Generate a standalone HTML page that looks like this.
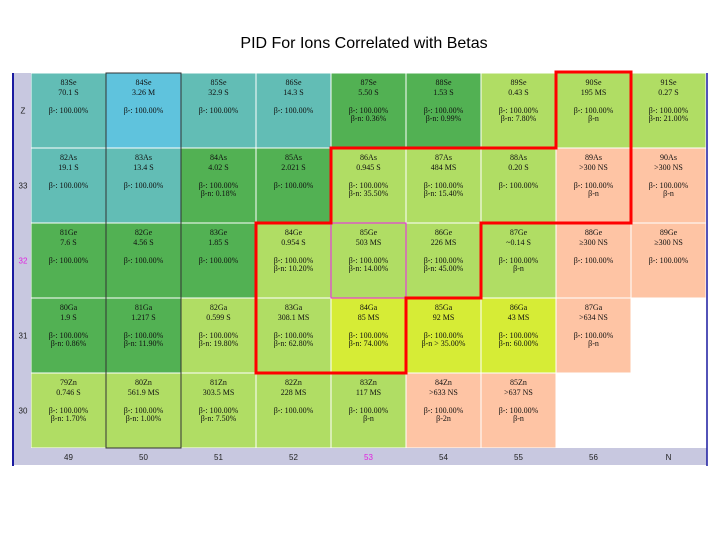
<!DOCTYPE html>
<html><head><meta charset="utf-8"><style>
body{margin:0;background:#fff;width:720px;height:540px;overflow:hidden;font-family:"Liberation Sans",sans-serif}
svg text{font-family:"Liberation Serif",serif;font-size:8px;fill:#111}
</style></head><body>
<svg id="c" width="720" height="540">
<text x="364" y="48" text-anchor="middle" style="font-family:'Liberation Sans',sans-serif;font-size:16px;fill:#000">PID For Ions Correlated with Betas</text>
</svg>
<script>
const rowLabels=["Z","33","32","31","30"];
const colLabels=["49","50","51","52","53","54","55","56","N"];
const colorMap={t:"#62bdb5",c:"#5fc3dd",g:"#52b153",l:"#b0dd64",y:"#d6ec36",s:"#fec4a4"};
const cells=[
["83Se","70.1 S","β-: 100.00%","","t",0,0],["84Se","3.26 M","β-: 100.00%","","c",0,1],["85Se","32.9 S","β-: 100.00%","","t",0,2],["86Se","14.3 S","β-: 100.00%","","t",0,3],["87Se","5.50 S","β-: 100.00%","β-n: 0.36%","g",0,4],["88Se","1.53 S","β-: 100.00%","β-n: 0.99%","g",0,5],["89Se","0.43 S","β-: 100.00%","β-n: 7.80%","l",0,6],["90Se","195 MS","β-: 100.00%","β-n","l",0,7],["91Se","0.27 S","β-: 100.00%","β-n: 21.00%","l",0,8],
["82As","19.1 S","β-: 100.00%","","t",1,0],["83As","13.4 S","β-: 100.00%","","t",1,1],["84As","4.02 S","β-: 100.00%","β-n: 0.18%","g",1,2],["85As","2.021 S","β-: 100.00%","","g",1,3],["86As","0.945 S","β-: 100.00%","β-n: 35.50%","l",1,4],["87As","484 MS","β-: 100.00%","β-n: 15.40%","l",1,5],["88As","0.20 S","β-: 100.00%","","l",1,6],["89As",">300 NS","β-: 100.00%","β-n","s",1,7],["90As",">300 NS","β-: 100.00%","β-n","s",1,8],
["81Ge","7.6 S","β-: 100.00%","","g",2,0],["82Ge","4.56 S","β-: 100.00%","","g",2,1],["83Ge","1.85 S","β-: 100.00%","","g",2,2],["84Ge","0.954 S","β-: 100.00%","β-n: 10.20%","l",2,3],["85Ge","503 MS","β-: 100.00%","β-n: 14.00%","l",2,4],["86Ge","226 MS","β-: 100.00%","β-n: 45.00%","l",2,5],["87Ge","~0.14 S","β-: 100.00%","β-n","l",2,6],["88Ge","≥300 NS","β-: 100.00%","","s",2,7],["89Ge","≥300 NS","β-: 100.00%","","s",2,8],
["80Ga","1.9 S","β-: 100.00%","β-n: 0.86%","g",3,0],["81Ga","1.217 S","β-: 100.00%","β-n: 11.90%","g",3,1],["82Ga","0.599 S","β-: 100.00%","β-n: 19.80%","l",3,2],["83Ga","308.1 MS","β-: 100.00%","β-n: 62.80%","l",3,3],["84Ga","85 MS","β-: 100.00%","β-n: 74.00%","y",3,4],["85Ga","92 MS","β-: 100.00%","β-n > 35.00%","y",3,5],["86Ga","43 MS","β-: 100.00%","β-n: 60.00%","y",3,6],["87Ga",">634 NS","β-: 100.00%","β-n","s",3,7],
["79Zn","0.746 S","β-: 100.00%","β-n: 1.70%","l",4,0],["80Zn","561.9 MS","β-: 100.00%","β-n: 1.00%","l",4,1],["81Zn","303.5 MS","β-: 100.00%","β-n: 7.50%","l",4,2],["82Zn","228 MS","β-: 100.00%","","l",4,3],["83Zn","117 MS","β-: 100.00%","β-n","l",4,4],["84Zn",">633 NS","β-: 100.00%","β-2n","s",4,5],["85Zn",">637 NS","β-: 100.00%","β-n","s",4,6]
];
const svg=document.getElementById('c');const NS="http://www.w3.org/2000/svg";
const X0=31,Y0=73,CW=75,RH=75;
const colX=i=>X0+i*CW, rowY=i=>Y0+i*RH;
function mk(t,a,p){const e=document.createElementNS(NS,t);for(const k in a)e.setAttribute(k,a[k]);(p||svg).appendChild(e);return e;}
let e;
e=mk('rect',{x:13,y:73,width:18,height:392,fill:'#c8c8e0'});


e=mk('rect',{x:13,y:448,width:694,height:17,fill:'#c8c8e0'});


cells.forEach(c=>{
 const g=mk('g',{});
 
 
 const x=colX(c[6]),y=rowY(c[5]);
 mk('rect',{x:x+0.5,y:y+0.5,width:CW-1,height:RH-1,fill:colorMap[c[4]]},g);
 const cx=x+CW/2;
 [[c[0],9],[c[1],19],[c[2],37],[c[3],45]].forEach(l=>{if(l[0]){const t=mk('text',{x:cx,y:y+l[1]+3,'text-anchor':'middle'},g);t.textContent=l[0];}});
});
rowLabels.forEach((r,i)=>{const t=mk('text',{x:23,y:rowY(i)+RH/2+3,'text-anchor':'middle',style:'font-family:Liberation Sans,sans-serif;font-size:8px;fill:'+(r==='32'?'#e020e0':'#222')});t.textContent=r;
 
 });
colLabels.forEach((r,i)=>{const t=mk('text',{x:colX(i)+CW/2,y:460,'text-anchor':'middle',style:'font-family:Liberation Sans,sans-serif;font-size:8px;fill:'+(r==='53'?'#e020e0':'#222')});t.textContent=r;
 
 });
e=mk('rect',{x:colX(1),y:Y0,width:CW,height:5*RH,fill:'none',stroke:'#333',"stroke-width":1});


e=mk('rect',{x:colX(4),y:rowY(2),width:CW,height:RH,fill:'none',stroke:'#f020f0',"stroke-width":1});


const pts=[[7,0],[8,0],[8,2],[6,2],[6,3],[5,3],[5,4],[3,4],[3,2],[4,2],[4,1],[7,1]];
e=mk('polygon',{points:pts.map(p=>colX(p[0])+','+(rowY(p[1])-(p[1]===0?1:0))).join(' '),fill:'none',stroke:'#f00','stroke-width':3});


e=mk('line',{x1:13,y1:73,x2:13,y2:466,stroke:'#1a1aa0','stroke-width':2});


e=mk('line',{x1:707,y1:73,x2:707,y2:466,stroke:'#1a1aa0','stroke-width':1.5});


</script>
</body></html>
